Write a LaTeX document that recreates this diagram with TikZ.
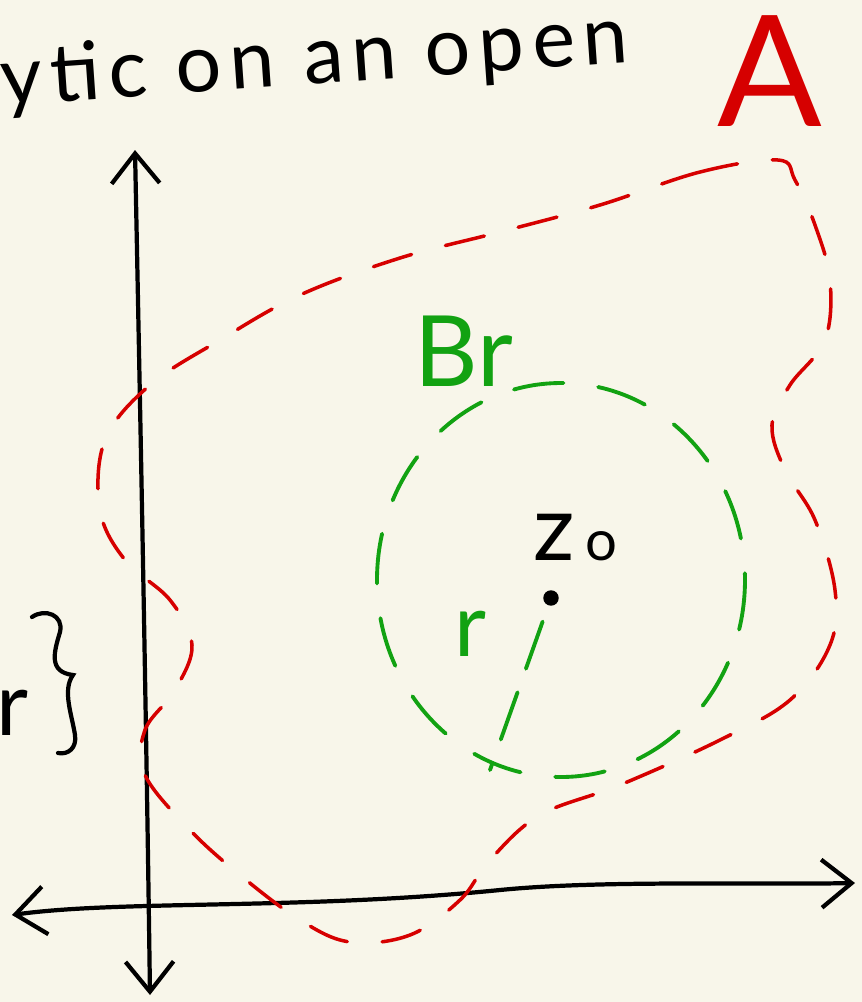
\documentclass[tikz,border=0pt]{standalone}
\usepackage{fontspec}
\setmainfont{Lato}
\usetikzlibrary{arrows.meta, positioning}
\definecolor{paper}{HTML}{F8F6EA}
\definecolor{inkred}{HTML}{D60000}
\definecolor{inkgreen}{HTML}{12A212}

\begin{document}
\begin{tikzpicture}[x=0.01cm, y=-0.01cm,
  >={Straight Barb[length=3mm, width=4.8mm]},
  axis/.style={line width=1.2pt, line cap=round, line join=round, <->},
  regionA/.style={inkred, line width=1pt, line cap=round,
                  dash pattern=on 4mm off 3.5mm},
  ballB/.style={inkgreen, line width=1.1pt, line cap=round,
                dash pattern=on 5mm off 3.5mm},
  hand/.style={inner sep=0pt, font=\fontsize{#1}{#1}\selectfont},
  hand/.default=22]

  % page
  \fill[paper] (0,0) rectangle (862,1002);
  \useasboundingbox (0,0) rectangle (862,1002);
  \clip (0,0) rectangle (862,1002);

  % axes
  \coordinate (ytop) at (135,150);
  \coordinate (ybot) at (150,995);
  \coordinate (xleft) at (12,915);
  \coordinate (xright) at (855,883);
  \draw[axis] (ybot) .. controls (146,700) and (140,400) .. (ytop);
  \draw[axis] (xleft) .. controls (120,900) and (300,910) .. (500,890)
                      .. controls (600,880) and (750,885) .. (xright);

  % open set A
  \draw[regionA] plot[smooth cycle, tension=0.6] coordinates {
    (778,160) (700,172) (600,205) (500,232) (400,258) (300,295)
    (220,340) (150,385) (105,440) (100,510) (125,560) (170,600)
    (192,645) (175,690) (145,730) (145,775) (190,830) (240,875)
    (300,920) (350,942) (410,935) (460,900) (490,860) (540,815)
    (620,785) (720,740) (790,700) (830,645) (835,590) (815,520)
    (785,470) (772,425) (790,385) (825,340) (830,280) (815,225)
    (795,180)};

  % ball B_r around z0
  \coordinate (z0) at (551,598);
  \coordinate (rim) at (490,770);
  \draw[ballB] (561,580) ellipse [x radius=184, y radius=197];
  \draw[ballB, dash pattern=on 5mm off 2.5mm, dash phase=5mm] (z0) -- (rim);
  \fill (z0) circle[radius=2.2pt];

  % labels
  \node[hand=23, anchor=base west, rotate=4] (title) at (2,106)
    {\addfontfeature{LetterSpace=10}ytic on an open};
  \node[hand=44, anchor=base, text=inkred] (labA) at (770,126) {A};
  \node[hand=28, anchor=base west, text=inkgreen] (labB) at (414,386) {Br};
  \node[hand=26, anchor=base west] (labz) at (533,560)
    {z\hspace{3pt}{\fontsize{16}{16}\selectfont o}};
  \node[hand=25, anchor=base, text=inkgreen] (labr) at (471,656) {r};
  \node[hand=25, anchor=base west] (labrr) at (-4,735) {r};

  % brace
  \draw[line width=1.2pt, line cap=round] (32,617)
    .. controls (45,608) and (64,615) .. (60,632)
    .. controls (54,652) and (48,672) .. (73,675)
    .. controls (62,690) and (72,715) .. (75,735)
    .. controls (77,748) and (68,755) .. (58,753);
\end{tikzpicture}
\end{document}
